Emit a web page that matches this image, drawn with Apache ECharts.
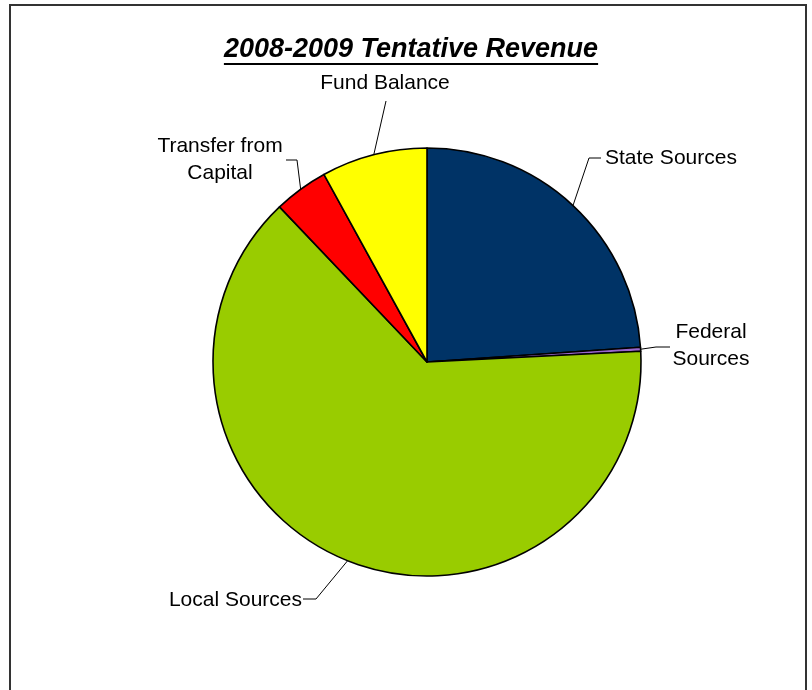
<!DOCTYPE html>
<html>
<head>
<meta charset="utf-8">
<script src="https://cdn.jsdelivr.net/npm/echarts@6/dist/echarts.min.js"></script>
<style>
  html, body { margin: 0; padding: 0; background: #fff; }
  #chart { width: 812px; height: 690px; }
</style>
</head>
<body>
<div id="chart"></div>
<script>
// Revenue sources, percent of total
const categories = ['State Sources', 'Federal Sources', 'Local Sources', 'Transfer from Capital', 'Fund Balance'];
const labelTexts = ['State Sources', 'Federal\nSources', 'Local Sources', 'Transfer from\nCapital', 'Fund Balance'];
const shares = [23.9, 0.3, 63.7, 4.1, 8.0];
const colors = ['#003366', '#9966CC', '#99CC00', '#FF0000', '#FFFF00'];

const titleText = '2008-2009 Tentative Revenue';
const FONT = '"Liberation Sans", Arial, sans-serif';

// Label anchors: [text x, text y, align, bend x, bend y, end x, end y]
const labelPlaces = [
  [605, 158, 'left', 589, 158, 601, 158],
  [711, 346, 'center', 656, 347, 670, 347],
  [302, 600, 'right', 316, 599, 303, 599],
  [220, 160, 'center', 297, 160, 286, 160],
  [385, 83, 'center', 386, 101, 386, 101]
];

const chart = echarts.init(document.getElementById('chart'), null, { renderer: 'canvas' });

// measure the title so the underline spans it
const ctx = document.createElement('canvas').getContext('2d');
ctx.font = 'italic bold 27px ' + FONT;
const titleW = ctx.measureText(titleText).width;
const titleCx = 411;

chart.setOption({
  backgroundColor: '#ffffff',
  animation: false,
  graphic: [
    {
      type: 'rect', shape: { x: 10, y: 5, width: 796, height: 700 },
      style: { fill: 'none', stroke: '#333', lineWidth: 2 }, silent: true
    },
    {
      type: 'text', x: titleCx, y: 50,
      style: {
        text: titleText, font: 'italic bold 27px ' + FONT, fill: '#000',
        align: 'center', verticalAlign: 'middle'
      }
    },
    {
      type: 'line',
      shape: { x1: titleCx - titleW / 2, y1: 64, x2: titleCx + titleW / 2, y2: 64 },
      style: { stroke: '#000', lineWidth: 2 }
    }
  ],
  series: [{
    type: 'pie',
    center: [427, 362],
    radius: [0, 214],
    startAngle: 90,
    clockwise: true,
    avoidLabelOverlap: false,
    itemStyle: { borderColor: '#000', borderWidth: 1.6 },
    label: {
      show: true,
      color: '#000',
      fontFamily: FONT,
      fontSize: 21,
      lineHeight: 27,
      formatter: p => labelTexts[p.dataIndex]
    },
    labelLine: {
      show: true,
      lineStyle: { color: '#000', width: 1 }
    },
    labelLayout: function (params) {
      const p = labelPlaces[params.dataIndex];
      const start = params.labelLinePoints ? params.labelLinePoints[0] : [p[3], p[4]];
      return {
        x: p[0], y: p[1], align: p[2], verticalAlign: 'middle',
        labelLinePoints: [start, [p[3], p[4]], [p[5], p[6]]]
      };
    },
    emphasis: { disabled: true },
    data: categories.map((name, i) => ({
      name: name, value: shares[i], itemStyle: { color: colors[i] }
    }))
  }]
});
</script>
</body>
</html>
